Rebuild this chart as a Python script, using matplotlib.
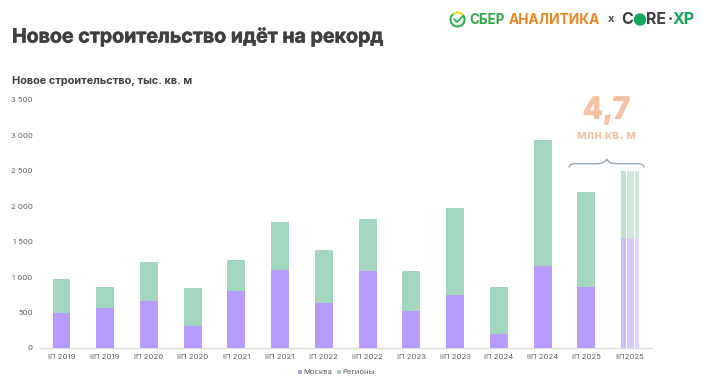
"""Новое строительство: stacked half-year bars, Moscow + regions."""
import matplotlib

matplotlib.use("Agg")
import matplotlib.patheffects as pe
import matplotlib.pyplot as plt
from matplotlib.patches import Arc, PathPatch, Rectangle
from matplotlib.path import Path

plt.rcParams["font.family"] = ["Inter", "DejaVu Sans"]

W, H = 702, 390

periods = ["IП 2019", "IIП 2019", "IП 2020", "IIП 2020", "IП 2021", "IIП 2021", "IП 2022",
           "IIП 2022", "IП 2023", "IIП 2023", "IП 2024", "IIП 2024", "IП 2025", "IIП2025"]
moscow = [500, 560, 670, 305, 810, 1100, 635, 1090, 520, 745, 200, 1160, 860, 1550]
regions = [480, 295, 540, 545, 425, 685, 750, 735, 560, 1235, 655, 1780, 1345, 950]
y_ticks = [0, 500, 1000, 1500, 2000, 2500, 3000, 3500]

PURPLE = "#B79CFD"
GREEN = "#A3D6BE"
DARK = "#404040"
GREY = "#5f5f5f"
PEACH = "#F2C2A2"


def px_axes(left, top, right, bottom):
    return fig.add_axes([left / W, 1 - bottom / H, (right - left) / W, (bottom - top) / H])


fig = plt.figure(figsize=(W / 100, H / 100), dpi=100, facecolor="white")

# ── Bars ───────────────────────────────────────────────────────────────
ax = px_axes(39.6, 100, 652, 348)
xs = list(range(len(periods)))
bar_w = 0.41
ax.bar(xs[:-1], moscow[:-1], width=bar_w, color=PURPLE, zorder=3)
ax.bar(xs[:-1], regions[:-1], width=bar_w, bottom=moscow[:-1], color=GREEN, zorder=3)

# forecast bar: three pale slices with thin white gaps
last = xs[-1]
slices = [(-0.155, 0.10, "#CDBAFE", "#BFE1D1"),
          (0.006, 0.17, "#D6C9FE", "#CFE8DC"),
          (0.16, 0.09, "#DFD5FE", "#CFE8DC")]
for off, w, c_low, c_high in slices:
    ax.bar(last + off, moscow[-1], width=w, color=c_low, zorder=3)
    ax.bar(last + off, regions[-1], width=w, bottom=moscow[-1], color=c_high, zorder=3)

ax.set_xlim(-0.5, len(periods) - 0.5)
ax.set_ylim(0, 3500)
ax.set_xticks(xs, periods)
ax.set_yticks(y_ticks, [f"{v:,}".replace(",", " ") for v in y_ticks])
ax.tick_params(axis="both", length=0, labelsize=5.6, labelcolor=GREY)
ax.tick_params(axis="x", pad=4.5)
ax.tick_params(axis="y", pad=5)
for side in ("top", "right", "left"):
    ax.spines[side].set_visible(False)
ax.spines["bottom"].set_color("#dcdcdc")
ax.spines["bottom"].set_linewidth(1)

# ── Overlay in pixel coordinates: titles, logos, brace, legend ─────────
ov = fig.add_axes([0, 0, 1, 1], facecolor="none")
ov.set_xlim(0, W)
ov.set_ylim(H, 0)
ov.axis("off")

# bold is not heavy enough next to the original typeface, thicken with a stroke
heavy = [pe.withStroke(linewidth=0.4, foreground=DARK)]
ov.text(12, 37, "Новое строительство идёт на рекорд", fontsize=14.1, fontweight="bold",
        color=DARK, va="center", ha="left", path_effects=heavy)
ov.text(12, 81, "Новое строительство, тыс. кв. м", fontsize=7.9, fontweight="bold",
        color=DARK, va="center", ha="left")

ov.text(606.5, 110.5, "4,7", fontsize=21.5, fontweight="bold", color=PEACH, ha="center", va="center",
        path_effects=[pe.withStroke(linewidth=0.8, foreground=PEACH)])
ov.text(606.5, 136, "млн кв. м", fontsize=8.8, fontweight="bold", color=PEACH, ha="center", va="center")

brace = Path(
    [(569, 167.5), (569.5, 163.7), (575, 163.7), (596, 163.7),
     (605, 163.7), (606.7, 159), (608.4, 163.7), (617, 163.7),
     (638, 163.7), (643.5, 163.7), (644, 167.5)],
    [Path.MOVETO, Path.CURVE3, Path.CURVE3, Path.LINETO,
     Path.CURVE3, Path.CURVE3, Path.CURVE3, Path.CURVE3,
     Path.LINETO, Path.CURVE3, Path.CURVE3],
)
ov.add_patch(PathPatch(brace, fill=False, edgecolor="#8E9FAD", linewidth=0.9))

# legend
ov.add_patch(Rectangle((298, 370), 4, 4, color=PURPLE, lw=0))
ov.text(303.5, 372.3, "Москва", fontsize=5.6, color=GREY, va="center", ha="left")
ov.add_patch(Rectangle((337, 370), 4, 4, color=GREEN, lw=0))
ov.text(342.5, 372.3, "Регионы", fontsize=5.6, color=GREY, va="center", ha="left")

# logos
ov.add_patch(Arc((457.5, 19.5), 14, 14, theta1=-40, theta2=230, color="#2FB24C", lw=1.5))
ov.add_patch(Arc((457.5, 19.5), 14, 14, theta1=230, theta2=320, color="#D6D92B", lw=1.5))
ov.plot([454, 457, 463], [19, 22, 16], color="#2FB24C", lw=1.3, solid_capstyle="round")
ov.text(469, 20, "СБЕР", fontsize=9.7, fontweight="bold", color="#2FA84A", va="center", ha="left")
ov.text(509, 20, "АНАЛИТИКА", fontsize=9.9, fontweight="bold", color="#EE8320", va="center", ha="left")
ov.text(611, 19.5, "x", fontsize=8, fontweight="bold", color="#555555", va="center", ha="center")
ov.text(621.5, 20, "C", fontsize=11.5, fontweight="bold", color="#3f3f3f", va="center", ha="left")
ov.add_patch(plt.Circle((640, 19.5), 6.2, color="#12A85A", lw=0))
ov.text(646, 20, "RE", fontsize=11.5, fontweight="bold", color="#3f3f3f", va="center", ha="left")
ov.text(670, 20, "·", fontsize=11, fontweight="bold", color="#3f3f3f", va="center", ha="center")
ov.text(672.5, 20, "XP", fontsize=11.5, fontweight="bold", color="#12A85A", va="center", ha="left")

fig.savefig("out.png", dpi=100, facecolor="white")
plt.close(fig)
